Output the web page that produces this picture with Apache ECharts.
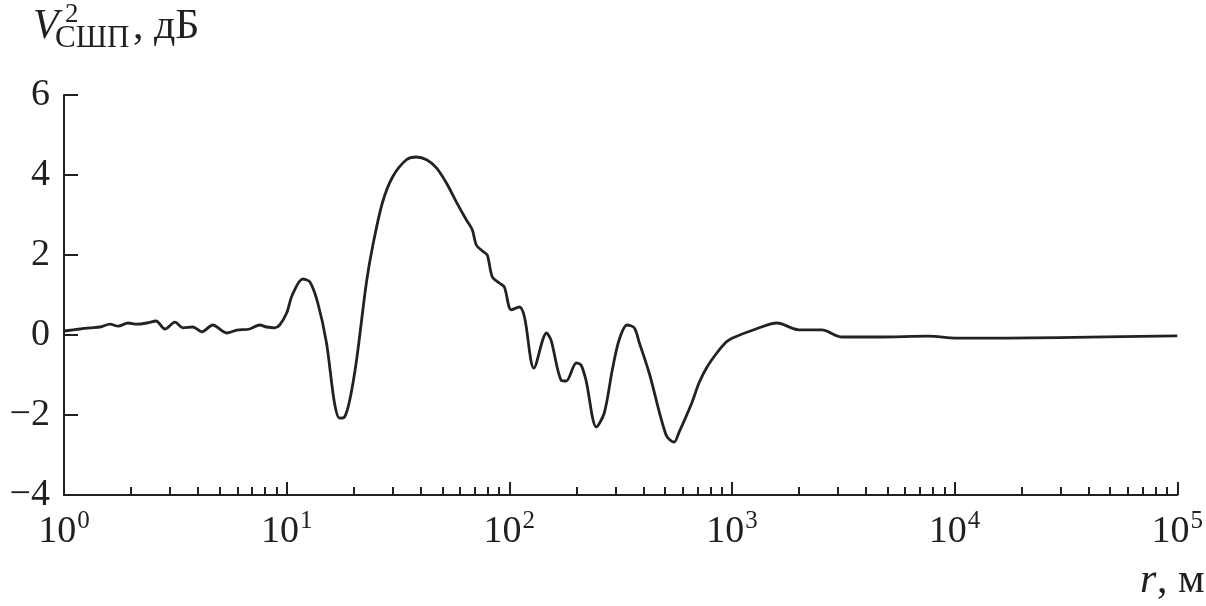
<!DOCTYPE html>
<html>
<head>
<meta charset="utf-8">
<script src="https://cdn.jsdelivr.net/npm/echarts@6/dist/echarts.min.js"></script>
<style>html,body{margin:0;padding:0;background:#fff;}#c{width:1206px;height:606px;}</style>
</head>
<body>
<div id="c"></div>
<script>
// distance r, m
var rValues = [1, 1.18, 1.31, 1.45, 1.61, 1.75, 1.94, 2.12, 2.36, 2.59, 2.84, 3.15, 3.42, 3.79, 4.16, 4.66, 5.38, 5.97, 6.82, 7.57, 8.13, 8.84, 9.30,
  10.0, 10.6, 11.8, 12.7, 13.8, 15.1, 16.4, 17.3, 18.2, 19.2, 20.6, 22.8, 24.3, 26.9, 29.9, 34.5, 38.3, 42.5, 47.1, 52.2, 57.8, 64.1, 68.2, 71.1, 75.7, 79.6, 83.9, 90.2, 95.0,
  102, 111, 117, 129, 147, 154, 171, 180, 200, 210, 221, 246, 267, 290, 311, 338, 364, 383, 425, 506, 549, 579, 662, 711, 773, 855, 940,
  1000, 1282, 1592, 1997, 2533, 3115, 4560, 7640, 10200, 100000];
// V^2 (dB)
var vValues = [0.1, 0.15, 0.18, 0.2, 0.27, 0.22, 0.3, 0.27, 0.3, 0.35, 0.15, 0.32, 0.18, 0.2, 0.08, 0.25, 0.05, 0.12, 0.15, 0.25, 0.2, 0.18, 0.25,
  0.55, 1.0, 1.4, 1.33, 0.8, -0.2, -1.7, -2.08, -2.05, -1.63, -0.63, 1.3, 2.2, 3.3, 3.95, 4.38, 4.45, 4.38, 4.18, 3.8, 3.33, 2.88, 2.63, 2.25, 2.1, 2.0, 1.45, 1.3, 1.2,
  0.63, 0.7, 0.45, -0.83, 0.05, -0.13, -1.13, -1.15, -0.7, -0.75, -1.13, -2.3, -1.95, -0.88, -0.13, 0.25, 0.18, -0.18, -0.95, -2.5, -2.68, -2.43, -1.68, -1.2, -0.8, -0.45, -0.18,
  -0.08, 0.15, 0.3, 0.13, 0.13, -0.05, -0.05, -0.03, -0.08, -0.02];
var yTicks = [-4, -2, 0, 2, 4, 6];
var xMajorTicks = [1, 10, 100, 1000, 10000, 100000];
var minorMultipliers = [2, 3, 4, 5, 6, 7, 8, 9];

var xMinorTicks = [];
xMajorTicks.slice(0, -1).forEach(function (d) {
  minorMultipliers.forEach(function (m) { xMinorTicks.push(d * m); });
});
var seriesData = rValues.map(function (r, i) { return [r, vValues[i]]; });

var ink = '#231f20';
var serif = '"Liberation Serif", "DejaVu Serif", serif';
var supDigits = ['0', '1', '2', '3', '4', '5'];

var chart = echarts.init(document.getElementById('c'));
chart.setOption({
  animation: false,
  backgroundColor: '#fff',
  grid: { left: 64, right: 27, top: 95, bottom: 111 },
  xAxis: [{
    type: 'log', logBase: 10, min: 1, max: 100000, position: 'bottom',
    axisLine: { onZero: false, lineStyle: { color: ink, width: 2 } },
    axisTick: { inside: true, length: 13, lineStyle: { color: ink, width: 2 }, customValues: xMajorTicks },
    splitLine: { show: false },
    axisLabel: {
      customValues: xMajorTicks,
      margin: 14,
      fontFamily: serif, color: ink,
      formatter: function (v) {
        var e = Math.round(Math.log10(v));
        return '{b|10}{s|' + supDigits[e] + '}';
      },
      rich: {
        b: { fontFamily: serif, fontSize: 38, color: ink, verticalAlign: 'bottom' },
        s: { fontFamily: serif, fontSize: 25, color: ink, verticalAlign: 'bottom', padding: [0, 0, 17, 1] }
      }
    }
  }, {
    type: 'log', logBase: 10, min: 1, max: 100000, position: 'bottom',
    axisLine: { show: false, onZero: false },
    axisTick: { inside: true, length: 8, lineStyle: { color: ink, width: 2 }, customValues: xMinorTicks },
    axisLabel: { show: false },
    splitLine: { show: false }
  }],
  yAxis: {
    type: 'value', min: -4, max: 6, interval: 2,
    axisLine: { show: true, onZero: false, lineStyle: { color: ink, width: 2 } },
    axisTick: { show: true, inside: true, length: 14, lineStyle: { color: ink, width: 2 } },
    splitLine: { show: false },
    axisLabel: {
      margin: 14, fontFamily: serif, fontSize: 38, color: ink,
      formatter: function (v) { return v < 0 ? '\u2212' + Math.abs(v) : String(v); }
    }
  },
  graphic: [
    { type: 'text', left: 33, top: 6, style: { text: 'V', font: 'italic 42px ' + serif, fill: ink } },
    { type: 'text', left: 65, top: 1, style: { text: '2', font: '27px ' + serif, fill: ink } },
    { type: 'text', left: 55, top: 23, style: { text: 'СШП', font: '31px ' + serif, fill: ink } },
    { type: 'text', left: 133, top: 6, style: { text: ', дБ', font: '42px ' + serif, fill: ink } },
    { type: 'text', left: 1140, top: 560, style: { text: 'r', font: 'italic 42px ' + serif, fill: ink } },
    { type: 'text', left: 1157, top: 560, style: { text: ', м', font: '42px ' + serif, fill: ink } }
  ],
  series: [{
    type: 'line', xAxisIndex: 0, data: seriesData,
    showSymbol: false, smooth: 0.3,
    lineStyle: { color: '#222', width: 2.8 }
  }]
});
</script>
</body>
</html>
